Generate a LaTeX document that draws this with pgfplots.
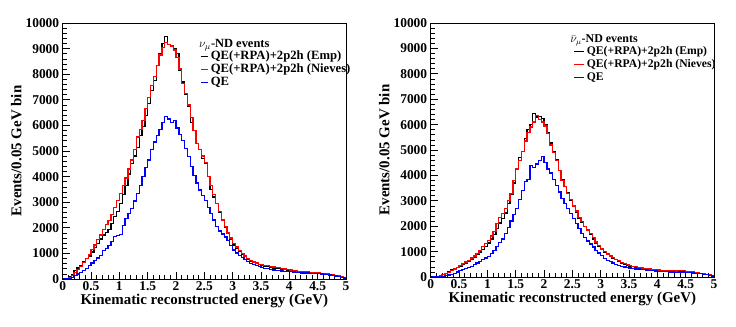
\documentclass[border=0pt]{standalone}
\usepackage{fontspec}
\setmainfont{Liberation Serif}
\usepackage{pgfplots}
\usepackage{pgfplotstable}
\pgfplotsset{compat=1.18}

% bins of 0.05 GeV, low edge; last row closes the histogram at 5 GeV
\pgfplotstableread{
x emp niev qe
0.00 0 0 0
0.05 20 10 0
0.10 80 60 20
0.15 180 150 60
0.20 330 260 130
0.25 430 380 190
0.30 530 500 260
0.35 680 640 340
0.40 790 790 420
0.45 900 950 520
0.50 1060 1150 630
0.55 1230 1330 720
0.60 1380 1530 820
0.65 1560 1720 920
0.70 1720 1940 1100
0.75 1830 2120 1200
0.80 1920 2290 1310
0.85 2180 2520 1460
0.90 2430 2800 1650
0.95 2650 3080 1700
1.00 2960 3350 1750
1.05 3300 3650 2100
1.10 3650 3950 2350
1.15 4100 4300 2560
1.20 4500 4650 2760
1.25 4800 5050 3050
1.30 5150 5550 3350
1.35 5600 5850 3650
1.40 5950 6200 4000
1.45 6400 6650 4350
1.50 6850 7100 4650
1.55 7350 7550 5050
1.60 7750 7900 5350
1.65 8350 8350 5600
1.70 8800 8750 5850
1.75 9200 9050 6100
1.80 9480 9250 6340
1.85 9150 9150 6250
1.90 9120 9100 6100
1.95 9000 8950 6200
2.00 8800 8650 5900
2.05 8150 8200 5650
2.10 7700 7650 5400
2.15 7200 7250 5100
2.20 6750 6800 4780
2.25 6100 6300 4400
2.30 5800 5800 4050
2.35 5300 5300 3750
2.40 5050 5050 3480
2.45 4700 4800 3250
2.50 4500 4550 3080
2.55 4000 4000 2800
2.60 3500 3650 2560
2.65 3200 3300 2300
2.70 2950 2950 2050
2.75 2600 2650 1880
2.80 2300 2300 1760
2.85 2000 2050 1640
2.90 1780 1800 1500
2.95 1550 1600 1300
3.00 1330 1400 1130
3.05 1200 1250 1020
3.10 1070 1100 930
3.15 950 1000 840
3.20 870 900 750
3.25 780 800 680
3.30 690 720 610
3.35 640 660 560
3.40 600 620 520
3.45 560 580 480
3.50 540 560 450
3.55 510 540 420
3.60 480 520 400
3.65 450 490 370
3.70 430 470 350
3.75 410 450 340
3.80 400 440 320
3.85 380 420 310
3.90 360 390 300
3.95 340 370 290
4.00 330 350 290
4.05 310 330 270
4.10 300 310 260
4.15 290 300 250
4.20 280 290 240
4.25 270 280 235
4.30 265 270 230
4.35 255 260 220
4.40 250 250 215
4.45 245 240 210
4.50 240 230 205
4.55 220 220 195
4.60 200 210 185
4.65 190 200 170
4.70 170 180 155
4.75 150 160 140
4.80 130 140 120
4.85 110 120 100
4.90 80 90 70
4.95 50 50 40
5.00 50 50 40
}\numu

\pgfplotstableread{
x emp niev qe
0.00 0 0 0
0.05 10 10 0
0.10 30 30 10
0.15 60 60 20
0.20 100 100 30
0.25 150 140 50
0.30 210 190 80
0.35 270 250 110
0.40 330 310 150
0.45 380 370 200
0.50 420 450 250
0.55 480 520 290
0.60 550 590 330
0.65 610 660 370
0.70 680 750 420
0.75 780 830 480
0.80 880 920 550
0.85 980 1050 620
0.90 1080 1200 700
0.95 1200 1330 750
1.00 1340 1450 800
1.05 1500 1620 920
1.10 1670 1800 1050
1.15 1900 2100 1200
1.20 2130 2350 1350
1.25 2300 2500 1500
1.30 2520 2700 1700
1.35 2900 3000 1950
1.40 3250 3300 2200
1.45 3700 3800 2450
1.50 4220 4250 2700
1.55 4700 4600 3050
1.60 4950 4950 3400
1.65 5450 5350 3750
1.70 5800 5700 3850
1.75 6000 5900 4400
1.80 6450 6100 4300
1.85 6300 6350 4450
1.90 6320 6200 4600
1.95 6250 6100 4750
2.00 6000 5950 4500
2.05 5700 5650 4250
2.10 5270 5200 4100
2.15 4950 4900 3850
2.20 4620 4600 3600
2.25 4200 4200 3350
2.30 3830 3800 3100
2.35 3550 3550 2900
2.40 3310 3300 2700
2.45 3000 3050 2500
2.50 2780 2800 2300
2.55 2550 2600 2100
2.60 2320 2350 1900
2.65 2150 2180 1720
2.70 1990 2000 1550
2.75 1820 1850 1420
2.80 1670 1700 1300
2.85 1500 1550 1180
2.90 1340 1380 1050
2.95 1200 1230 950
3.00 1080 1100 850
3.05 970 1000 740
3.10 880 900 650
3.15 800 830 600
3.20 750 770 550
3.25 680 700 500
3.30 620 640 450
3.35 550 580 420
3.40 490 520 390
3.45 450 480 370
3.50 420 440 350
3.55 400 420 330
3.60 380 400 320
3.65 360 380 310
3.70 350 360 300
3.75 330 345 290
3.80 320 330 280
3.85 300 310 265
3.90 290 300 250
3.95 275 285 235
4.00 260 270 220
4.05 250 260 215
4.10 240 250 210
4.15 235 245 205
4.20 230 240 200
4.25 225 235 195
4.30 220 240 190
4.35 220 250 185
4.40 215 260 180
4.45 210 250 180
4.50 210 230 175
4.55 200 210 170
4.60 190 200 160
4.65 180 190 150
4.70 160 170 140
4.75 140 150 125
4.80 130 130 110
4.85 110 110 90
4.90 80 80 70
4.95 50 50 40
5.00 50 50 40
}\numubar

\pgfplotsset{
  rootstyle/.style={
    scale only axis,
    xmin=0, xmax=5, ymin=0, ymax=10000,
    xtick={0,0.5,...,5}, minor x tick num=4,
    ytick={0,1000,...,10000}, minor y tick num=4,
    scaled y ticks=false,
    tick align=inside, tick pos=left,
    major tick length=7bp, minor tick length=4bp,
    tick style={black, line width=0.6bp},
    axis line style={black, line width=0.8bp},
    ticklabel style={font=\fontsize{13.5}{13.5}\selectfont\bfseries},
    /pgf/number format/assume math mode=true,
    /pgf/number format/1000 sep={},
    xticklabel style={/pgf/number format/fixed, yshift=1bp},
    xlabel={Kinematic reconstructed energy (GeV)},
    ylabel={Events/0.05 GeV bin},
    label style={font=\fontsize{15}{15}\selectfont\bfseries},
    xlabel style={yshift=3bp},
    ylabel style={yshift=-3bp},
    legend style={draw=none, fill=none, anchor=north west, row sep=0pt, inner sep=0pt,
      nodes={text height=8.5bp, text depth=3bp, inner ysep=0.75bp}},
    legend cell align=left,
    every axis plot/.append style={const plot, line width=1.3bp},
  },
}

\begin{document}
\begin{tikzpicture}
\path[use as bounding box] (0,0) rectangle (736bp,327bp);

\begin{axis}[rootstyle,
  at={(62.7bp,48bp)}, anchor=south west,
  width=283.3bp, height=256bp,
  legend image code/.code={\draw[#1, line width=1.5bp] (0bp,0bp) -- (7bp,0bp);},
  legend style={at={(0.485,0.896)}, font=\fontsize{12.7}{12}\selectfont\bfseries},
]
\addplot[black] table[x=x, y=emp] {\numu};
\addplot[red] table[x=x, y=niev] {\numu};
\addplot[blue] table[x=x, y=qe] {\numu};
\legend{QE(+RPA)+2p2h (Emp), QE(+RPA)+2p2h (Nieves), QE}
\node[anchor=west, font=\fontsize{12.5}{12}\selectfont\bfseries, inner sep=0pt]
  at (axis description cs:0.481,0.914) {$\nu_\mu$-ND events};
\end{axis}

\begin{axis}[rootstyle,
  at={(430.7bp,50bp)}, anchor=south west,
  width=283.3bp, height=254bp,
  legend image code/.code={\draw[#1, line width=1.5bp] (0bp,0bp) -- (10bp,0bp);},
  legend style={at={(0.503,0.915)}, font=\fontsize{11.7}{12}\selectfont\bfseries},
]
\addplot[black] table[x=x, y=emp] {\numubar};
\addplot[red] table[x=x, y=niev] {\numubar};
\addplot[blue] table[x=x, y=qe] {\numubar};
\legend{QE(+RPA)+2p2h (Emp), QE(+RPA)+2p2h (Nieves), QE}
\node[anchor=west, font=\fontsize{12}{12}\selectfont\bfseries, inner sep=0pt]
  at (axis description cs:0.492,0.933) {$\bar{\nu}_\mu$-ND events};
\end{axis}
\end{tikzpicture}
\end{document}
